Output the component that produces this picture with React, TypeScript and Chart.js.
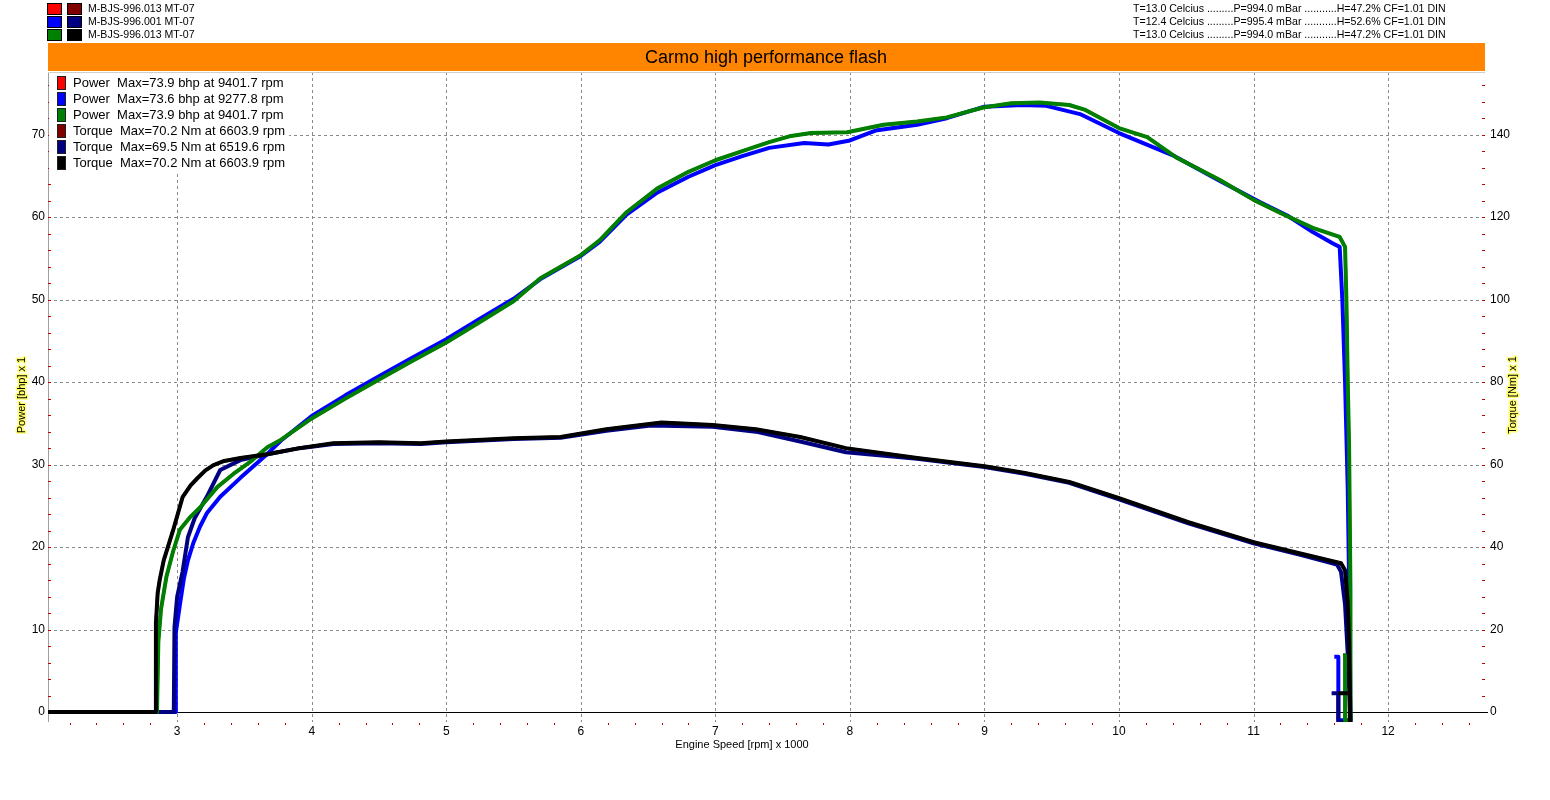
import { useEffect, useRef } from 'react'
import { Chart, registerables } from 'chart.js'

Chart.register(...registerables)

// runs 1 and 3 come from the same file (M-BJS-996.013), so they share data
const run13PowerRpm = [2.63, 2.85, 2.86, 2.88, 2.92, 2.97, 3.02, 3.1, 3.17, 3.3, 3.42, 3.54, 3.67, 3.77, 4.0, 4.25, 4.51, 4.75, 5.0, 5.25, 5.5, 5.7, 5.85, 6.0, 6.14, 6.34, 6.57, 6.8, 7.0, 7.2, 7.4, 7.55, 7.71, 7.98, 8.25, 8.5, 8.72, 8.99, 9.2, 9.41, 9.63, 9.75, 10.0, 10.21, 10.43, 10.75, 11.0, 11.2, 11.44, 11.64, 11.68, 11.69, 11.7, 11.71, 11.72, 11.72, 11.68, 11.68, 11.665]
const run13Power = [0, 0, 8.5, 12.5, 16.4, 19.5, 22.1, 23.7, 24.8, 27.3, 28.9, 30.3, 32.1, 33.0, 35.6, 38.0, 40.4, 42.6, 44.8, 47.3, 49.8, 52.6, 54.0, 55.4, 57.2, 60.6, 63.5, 65.5, 66.9, 68.0, 69.1, 69.8, 70.2, 70.3, 71.2, 71.6, 72.1, 73.3, 73.8, 73.9, 73.6, 73.0, 70.8, 69.7, 67.2, 64.5, 62.1, 60.5, 58.7, 57.6, 56.4, 49.9, 40.0, 32.0, 14.8, -1.0, -1.0, 6.9, 6.9]

const run2PowerRpm = [2.7, 2.985, 2.99, 3.02, 3.05, 3.08, 3.12, 3.17, 3.22, 3.32, 3.47, 3.67, 3.77, 4.0, 4.25, 4.51, 4.75, 5.0, 5.25, 5.5, 5.7, 6.0, 6.14, 6.34, 6.57, 6.8, 7.0, 7.2, 7.4, 7.66, 7.84, 8.0, 8.19, 8.5, 8.72, 9.0, 9.28, 9.46, 9.71, 10.0, 10.4, 10.75, 11.05, 11.25, 11.44, 11.59, 11.64, 11.66, 11.68, 11.7, 11.715, 11.72, 11.63, 11.63, 11.6]
const run2Power = [0, 0, 9.6, 13.0, 16.2, 18.4, 20.5, 22.5, 24.1, 26.1, 28.4, 31.3, 32.9, 35.9, 38.4, 40.8, 43.0, 45.2, 47.7, 50.1, 52.5, 55.3, 57.0, 60.3, 63.0, 64.9, 66.3, 67.4, 68.4, 69.0, 68.8, 69.3, 70.5, 71.2, 72.0, 73.4, 73.6, 73.5, 72.5, 70.2, 67.5, 64.4, 61.8, 60.2, 58.2, 56.8, 56.4, 49.9, 40.0, 27.0, 10.0, -1.0, -1.0, 6.7, 6.7]

const run13TorqueRpm = [2.04, 2.84, 2.842, 2.855, 2.87, 2.9, 2.97, 3.04, 3.1, 3.15, 3.21, 3.27, 3.35, 3.47, 3.67, 3.91, 4.16, 4.5, 4.81, 5.0, 5.5, 5.85, 6.19, 6.6, 6.98, 7.3, 7.63, 7.97, 8.5, 9.0, 9.3, 9.63, 10.0, 10.51, 11.0, 11.34, 11.65, 11.68, 11.7, 11.71, 11.72, 11.715, 11.715, 11.63]
const run13Torque = [0, 0, 21.6, 28.8, 32.0, 36.8, 44.1, 52.1, 55.0, 56.7, 58.6, 59.9, 60.9, 61.6, 62.5, 64.0, 65.2, 65.4, 65.2, 65.6, 66.4, 66.7, 68.6, 70.2, 69.6, 68.6, 66.7, 64.0, 61.6, 59.6, 58.0, 55.8, 51.9, 46.1, 41.2, 38.5, 36.1, 34.4, 26.4, 17.0, -2.4, -2.4, 4.6, 4.6]

const run2TorqueRpm = [2.04, 2.975, 2.98, 3.0, 3.04, 3.08, 3.13, 3.22, 3.32, 3.47, 3.67, 3.91, 4.16, 4.5, 4.81, 5.0, 5.5, 5.85, 6.19, 6.52, 6.98, 7.3, 7.63, 7.97, 8.5, 9.0, 9.3, 9.63, 10.0, 10.51, 11.0, 11.34, 11.62, 11.65, 11.68, 11.7, 11.72, 11.63, 11.63, 11.58]
const run2Torque = [0, 0, 20.6, 28.0, 34.0, 42.4, 47.0, 52.2, 58.7, 61.1, 62.5, 64.0, 65.0, 65.2, 65.0, 65.4, 66.2, 66.5, 68.2, 69.5, 69.2, 68.0, 65.6, 63.0, 61.4, 59.4, 57.8, 55.6, 51.6, 45.8, 40.9, 38.2, 35.8, 34.0, 26.0, 14.0, -2.4, -2.4, 4.6, 4.6]

const xTicks = [3, 4, 5, 6, 7, 8, 9, 10, 11, 12]
const powerTicks = [0, 10, 20, 30, 40, 50, 60, 70]
const torqueTicks = [0, 20, 40, 60, 80, 100, 120, 140]

const runNames = ['M-BJS-996.013 MT-07', 'M-BJS-996.001 MT-07', 'M-BJS-996.013 MT-07']
const runConditions = [
  'T=13.0 Celcius .........P=994.0 mBar ...........H=47.2% CF=1.01 DIN',
  'T=12.4 Celcius .........P=995.4 mBar ...........H=52.6% CF=1.01 DIN',
  'T=13.0 Celcius .........P=994.0 mBar ...........H=47.2% CF=1.01 DIN',
]
const legendLines = [
  'Power  Max=73.9 bhp at 9401.7 rpm',
  'Power  Max=73.6 bhp at 9277.8 rpm',
  'Power  Max=73.9 bhp at 9401.7 rpm',
  'Torque  Max=70.2 Nm at 6603.9 rpm',
  'Torque  Max=69.5 Nm at 6519.6 rpm',
  'Torque  Max=70.2 Nm at 6603.9 rpm',
]
const powerColors = ['#ff0000', '#0000ff', '#008000']
const torqueColors = ['#800000', '#000080', '#000000']

const FONT = '"Liberation Sans", Arial, sans-serif'

const pts = (xs: number[], ys: number[]) => xs.map((x, i) => ({ x, y: ys[i] }))

const dynoPlugin = {
  id: 'dyno',
  beforeDatasetsDraw(chart: any) {
    const { ctx, chartArea: a, scales } = chart
    const sx = scales.x
    const sy = scales.y
    const line = (x1: number, y1: number, x2: number, y2: number) => {
      ctx.beginPath()
      ctx.moveTo(x1, y1)
      ctx.lineTo(x2, y2)
      ctx.stroke()
    }
    ctx.save()
    ctx.lineWidth = 1
    ctx.strokeStyle = '#8a8a8a'
    ctx.setLineDash([3, 3])
    xTicks.forEach((v) => {
      const px = Math.round(sx.getPixelForValue(v)) + 0.5
      line(px, a.top, px, a.bottom)
    })
    powerTicks.forEach((v) => {
      if (v === 0) return
      const py = Math.round(sy.getPixelForValue(v)) + 0.5
      line(a.left, py, a.right, py)
    })
    ctx.setLineDash([])
    // zero line
    const y0 = Math.round(sy.getPixelForValue(0)) + 0.5
    ctx.strokeStyle = '#000'
    line(a.left, y0, a.right + 3, y0)
    // left axis and top border
    ctx.strokeStyle = '#a0a0a0'
    line(a.left + 0.5, a.top, a.left + 0.5, a.bottom)
    ctx.strokeStyle = '#cfcfcf'
    line(a.left, a.top + 0.5, a.right, a.top + 0.5)
    ctx.restore()
  },
  afterDatasetsDraw(chart: any) {
    const { ctx, chartArea: a, scales } = chart
    const sx = scales.x
    const sy = scales.y
    const sy1 = scales.y1
    ctx.save()

    // minor ticks (red)
    ctx.fillStyle = '#c00000'
    for (let v = 2; v <= 76; v += 2) {
      const py = Math.round(sy.getPixelForValue(v))
      ctx.fillRect(a.left, py, 3, 1)
    }
    for (let v = 4; v <= 152; v += 4) {
      const py = Math.round(sy1.getPixelForValue(v))
      ctx.fillRect(a.right - 3, py, 3, 1)
    }
    for (let i = 11; i <= 63; i++) {
      if (i % 5 === 0) continue
      const px = Math.round(sx.getPixelForValue(i / 5))
      ctx.fillRect(px, a.bottom + 1, 1, 2)
    }

    // tick labels
    ctx.fillStyle = '#000'
    ctx.font = `12px ${FONT}`
    ctx.textBaseline = 'middle'
    ctx.textAlign = 'right'
    powerTicks.forEach((v) => ctx.fillText(String(v), a.left - 3, sy.getPixelForValue(v)))
    ctx.textAlign = 'left'
    torqueTicks.forEach((v) => ctx.fillText(String(v), a.right + 5, sy1.getPixelForValue(v)))
    ctx.textAlign = 'center'
    xTicks.forEach((v) => ctx.fillText(String(v), sx.getPixelForValue(v), a.bottom + 10))

    // axis titles
    ctx.font = `11px ${FONT}`
    ctx.fillText('Engine Speed [rpm] x 1000', 742, a.bottom + 23)
    const vTitle = (text: string, x: number) => {
      ctx.save()
      ctx.translate(x, 395)
      ctx.rotate(-Math.PI / 2)
      ctx.lineWidth = 3
      ctx.strokeStyle = '#ffff70'
      ctx.lineJoin = 'round'
      ctx.strokeText(text, 0, 0)
      ctx.fillStyle = '#000'
      ctx.fillText(text, 0, 0)
      ctx.restore()
    }
    vTitle('Power [bhp] x 1', 22)
    vTitle('Torque [Nm] x 1', 1513)

    // legend inside plot
    ctx.fillStyle = '#fff'
    ctx.fillRect(a.left + 1, a.top + 1, 240, 98)
    const legendColors = [...powerColors, ...torqueColors]
    ctx.font = `13px ${FONT}`
    ctx.textAlign = 'left'
    legendLines.forEach((t, i) => {
      const top = a.top + 4 + i * 16
      ctx.fillStyle = legendColors[i]
      ctx.fillRect(57, top, 9, 14)
      ctx.strokeStyle = '#202020'
      ctx.lineWidth = 1
      ctx.strokeRect(57.5, top + 0.5, 8, 13)
      ctx.fillStyle = '#000'
      ctx.fillText(t, 73, top + 7.5)
    })

    // header: run legend, conditions, title bar
    ctx.font = `10.6px ${FONT}`
    runNames.forEach((name, i) => {
      const top = 3 + i * 13
      ctx.fillStyle = powerColors[i]
      ctx.fillRect(47, top, 15, 12)
      ctx.strokeStyle = '#000'
      ctx.strokeRect(47.5, top + 0.5, 14, 11)
      ctx.fillStyle = torqueColors[i]
      ctx.fillRect(67, top, 15, 12)
      ctx.strokeRect(67.5, top + 0.5, 14, 11)
      ctx.fillStyle = '#000'
      ctx.fillText(name, 88, top + 6)
      ctx.fillText(runConditions[i], 1133, top + 6)
    })
    ctx.fillStyle = '#ff8400'
    ctx.fillRect(a.left, 43, a.right - a.left, 28)
    ctx.fillStyle = '#000'
    ctx.font = `18px ${FONT}`
    ctx.textAlign = 'center'
    ctx.fillText('Carmo high performance flash', 766, 58)
    ctx.restore()
  },
}

const DynoChart = () => {
  const canvasRef = useRef<HTMLCanvasElement>(null)

  useEffect(() => {
    const powerRuns = [pts(run13PowerRpm, run13Power), pts(run2PowerRpm, run2Power), pts(run13PowerRpm, run13Power)]
    const torqueRuns = [pts(run13TorqueRpm, run13Torque), pts(run2TorqueRpm, run2Torque), pts(run13TorqueRpm, run13Torque)]
    // lower order is drawn on top
    const powerOrder = [6, 4, 2]
    const torqueOrder = [5, 3, 1]

    const chart = new Chart(canvasRef.current!, {
      type: 'line',
      data: {
        datasets: [
          ...powerRuns.map((data, i) => ({
            label: 'Power ' + runNames[i],
            data,
            yAxisID: 'y',
            borderColor: powerColors[i],
            borderWidth: i === 0 ? 3 : 4,
            order: powerOrder[i],
          })),
          ...torqueRuns.map((data, i) => ({
            label: 'Torque ' + runNames[i],
            data,
            yAxisID: 'y1',
            borderColor: torqueColors[i],
            borderWidth: i === 0 ? 3 : 4,
            order: torqueOrder[i],
          })),
        ],
      },
      options: {
        responsive: false,
        animation: false,
        events: [],
        layout: { padding: { left: 48, right: 65, top: 72, bottom: 78 } },
        elements: {
          point: { radius: 0 },
          line: { tension: 0, borderJoinStyle: 'round', fill: false },
        },
        plugins: { legend: { display: false }, tooltip: { enabled: false } },
        scales: {
          x: { type: 'linear', min: 2.04, max: 12.72, display: false },
          y: { type: 'linear', min: -1.2, max: 77.6, display: false },
          y1: { type: 'linear', position: 'right', min: -2.4, max: 155.2, display: false },
        },
      },
      plugins: [dynoPlugin],
    } as any)

    return () => chart.destroy()
  }, [])

  return (
    <div style={{ position: 'fixed', left: 0, top: 0, width: 1550, height: 800, background: '#fff' }}>
      <canvas ref={canvasRef} width={1550} height={800} style={{ width: 1550, height: 800 }} />
    </div>
  )
}

export default DynoChart
